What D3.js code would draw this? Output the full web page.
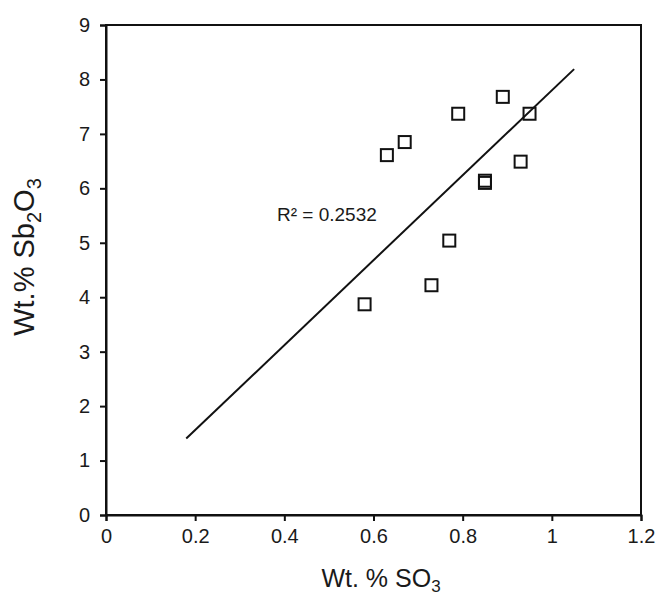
<!DOCTYPE html>
<html>
<head>
<meta charset="utf-8">
<script src="https://cdn.jsdelivr.net/npm/d3@7"></script>
<style>
  body { margin: 0; background: #fff; }
  svg { display: block; font-family: Arial, "Liberation Sans", sans-serif; }
  .axis path, .axis line { stroke: #111; stroke-width: 2; }
  .axis text { fill: #1a1a1a; font-size: 20px; }
</style>
</head>
<body>
<script>
  // Data
  const so3 = [0.58, 0.63, 0.67, 0.73, 0.77, 0.79, 0.85, 0.85, 0.89, 0.93, 0.95];
  const sb2o3 = [3.87, 6.61, 6.85, 4.22, 5.04, 7.37, 6.10, 6.14, 7.68, 6.49, 7.37];
  const xTicks = [0, 0.2, 0.4, 0.6, 0.8, 1, 1.2];
  const yTicks = [0, 1, 2, 3, 4, 5, 6, 7, 8, 9];
  // Trend line: y = slope * x + intercept, drawn from fitX[0] to fitX[1]
  const fitX = [0.18, 1.05];
  const slope = 7.8;
  const intercept = 0.0;
  const r2Label = 'R² = 0.2532';

  const points = so3.map((x, i) => ({ x, y: sb2o3[i] }));

  const W = 656, H = 597;
  const margin = { top: 25, right: 15, bottom: 82, left: 106 };
  const width = W - margin.left - margin.right;
  const height = H - margin.top - margin.bottom;

  const svg = d3.select('body').append('svg')
    .attr('width', W)
    .attr('height', H);

  const xScale = d3.scaleLinear().domain([0, 1.2]).range([0, width]);
  const yScale = d3.scaleLinear().domain([0, 9]).range([height, 0]);

  const chart = svg.append('g')
    .attr('transform', `translate(${margin.left},${margin.top})`);

  // Frame (top and right sides)
  chart.append('rect')
    .attr('x', 0).attr('y', 0)
    .attr('width', width).attr('height', height)
    .attr('fill', 'none')
    .attr('stroke', '#111')
    .attr('stroke-width', 2);

  // Axes
  chart.append('g')
    .attr('class', 'axis')
    .attr('transform', `translate(0,${height})`)
    .call(d3.axisBottom(xScale).tickValues(xTicks).tickFormat(d3.format('~g')).tickSizeOuter(0).tickSize(6).tickPadding(8));

  chart.append('g')
    .attr('class', 'axis')
    .call(d3.axisLeft(yScale).tickValues(yTicks).tickFormat(d3.format('d')).tickSizeOuter(0).tickSize(6).tickPadding(10));

  // Trend line
  const line = d3.line()
    .x((d) => xScale(d))
    .y((d) => yScale(slope * d + intercept));

  chart.append('path')
    .datum(fitX)
    .attr('d', line)
    .attr('fill', 'none')
    .attr('stroke', '#111')
    .attr('stroke-width', 2);

  // Square markers
  const s = 12;
  chart.selectAll('rect.pt')
    .data(points)
    .join('rect')
    .attr('class', 'pt')
    .attr('x', (d) => xScale(d.x) - s / 2)
    .attr('y', (d) => yScale(d.y) - s / 2)
    .attr('width', s)
    .attr('height', s)
    .attr('fill', 'none')
    .attr('stroke', '#111')
    .attr('stroke-width', 2);

  // R² annotation
  chart.append('text')
    .attr('x', 277 - margin.left)
    .attr('y', 221 - margin.top)
    .attr('font-size', 19)
    .attr('fill', '#1a1a1a')
    .text(r2Label);

  // Axis titles
  const xt = svg.append('text')
    .attr('x', 381)
    .attr('y', 587)
    .attr('text-anchor', 'middle')
    .attr('font-size', 25)
    .attr('fill', '#1a1a1a');
  xt.append('tspan').text('Wt. % SO');
  xt.append('tspan').attr('font-size', 17).attr('dy', 5).text('3');

  const yt = svg.append('text')
    .attr('transform', 'translate(34,257) rotate(-90)')
    .attr('text-anchor', 'middle')
    .attr('font-size', 29)
    .attr('fill', '#1a1a1a');
  yt.append('tspan').text('Wt.% Sb');
  yt.append('tspan').attr('font-size', 20).attr('dy', 7).text('2');
  yt.append('tspan').attr('dy', -7).text('O');
  yt.append('tspan').attr('font-size', 20).attr('dy', 7).text('3');
</script>
</body>
</html>
